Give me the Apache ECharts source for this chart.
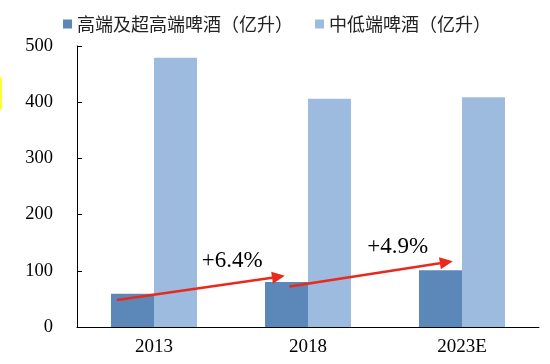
<!DOCTYPE html>
<html>
<head>
<meta charset="utf-8">
<script src="https://cdn.jsdelivr.net/npm/echarts@6/dist/echarts.min.js"></script>
<style>
  html, body { margin: 0; padding: 0; background: #fff; }
  #main { width: 550px; height: 364px; }
</style>
</head>
<body>
<div id="main"></div>
<script>
var years = ['2013', '2018', '2023E'];
var highEnd = [59, 80, 101];
var midLow = [479, 406, 409];
var growth = ['+6.4%', '+4.9%'];
var yTicks = [0, 100, 200, 300, 400, 500];

var serif = '"Liberation Serif", "Times New Roman", serif';
var cjk = '"Noto Sans CJK SC", sans-serif';

var myChart = echarts.init(document.getElementById('main'));
var option = {
    animation: false,
    legend: {
        left: 58,
        top: 10,
        itemWidth: 9,
        itemHeight: 9,
        itemGap: 22,
        icon: 'rect',
        textStyle: { fontFamily: cjk, fontSize: 18, color: '#222' },
        data: ['高端及超高端啤酒（亿升）', '中低端啤酒（亿升）']
    },
    grid: { left: 77, right: 11, top: 46, bottom: 37 },
    xAxis: {
        type: 'category',
        data: years,
        axisLine: { lineStyle: { color: '#000', width: 1 } },
        axisTick: { inside: true, length: 5, lineStyle: { color: '#000' } },
        axisLabel: { fontFamily: serif, fontSize: 19, color: '#000', margin: 11 }
    },
    yAxis: {
        type: 'value',
        min: yTicks[0],
        max: yTicks[yTicks.length - 1],
        interval: 100,
        axisLine: { show: true, lineStyle: { color: '#000', width: 1 } },
        axisTick: { show: true, inside: true, length: 5, lineStyle: { color: '#000' } },
        splitLine: { show: false },
        axisLabel: { fontFamily: serif, fontSize: 18.5, color: '#000', margin: 24 }
    },
    series: [
        {
            name: '高端及超高端啤酒（亿升）',
            type: 'bar',
            data: highEnd,
            barWidth: 43,
            barGap: '0%',
            itemStyle: { color: '#5B87B9' }
        },
        {
            name: '中低端啤酒（亿升）',
            type: 'bar',
            data: midLow,
            barWidth: 43,
            itemStyle: { color: '#9DBADF' }
        }
    ]
};
myChart.setOption(option);

// growth arrows, placed from data positions
function pt(idx, offset, val) {
    var p = myChart.convertToPixel({ seriesIndex: 0 }, [idx, val]);
    var bandW = (550 - 77 - 11) / years.length;
    return [p[0] + offset * bandW, p[1]];
}
var arrows = [
    { from: pt(0, -0.24, 48), to: pt(1, -0.15, 91), label: pt(0, 0.31, 118) },
    { from: pt(1, -0.12, 72), to: pt(2, -0.06, 117), label: pt(1, 0.385, 143) }
];
var graphics = [];
arrows.forEach(function (a, i) {
    var dx = a.to[0] - a.from[0], dy = a.to[1] - a.from[1];
    var len = Math.sqrt(dx * dx + dy * dy);
    var ux = dx / len, uy = dy / len;
    var headL = 13, headW = 6;
    var base = [a.to[0] - ux * headL, a.to[1] - uy * headL];
    graphics.push({
        type: 'line',
        z: 100,
        shape: { x1: a.from[0], y1: a.from[1], x2: base[0], y2: base[1] },
        style: { stroke: '#E8291C', lineWidth: 2.5 }
    });
    graphics.push({
        type: 'polygon',
        z: 100,
        shape: { points: [a.to, [base[0] - uy * headW, base[1] + ux * headW], [base[0] + uy * headW, base[1] - ux * headW]] },
        style: { fill: '#E8291C' }
    });
    graphics.push({
        type: 'text',
        z: 100,
        x: a.label[0],
        y: a.label[1],
        style: { text: growth[i], font: '23px ' + serif, fill: '#000', textAlign: 'left', textVerticalAlign: 'middle' }
    });
});
// small yellow mark on the left edge
graphics.push({ type: 'rect', shape: { x: 0, y: 77, width: 2, height: 33 }, style: { fill: '#FFFF33' } });
myChart.setOption({ graphic: graphics });
</script>
</body>
</html>
